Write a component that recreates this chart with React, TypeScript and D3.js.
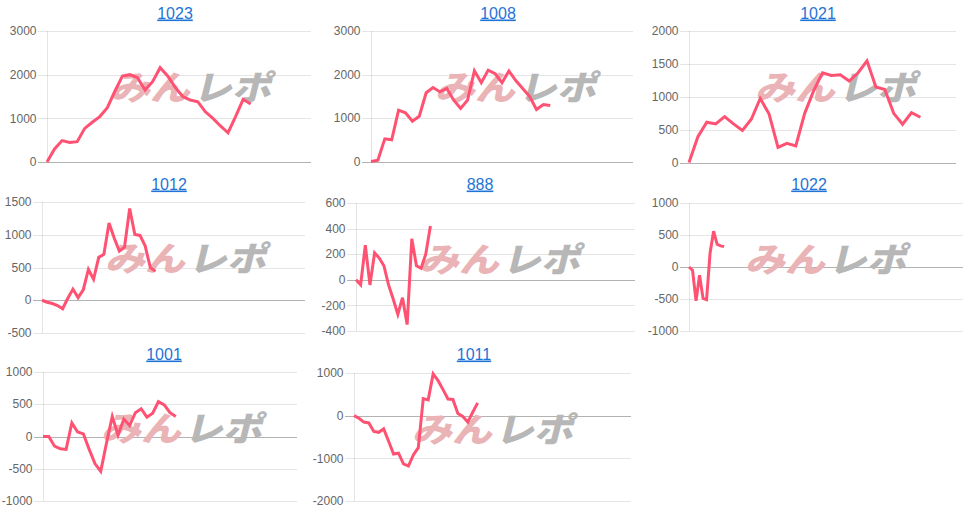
import React from "react";
import * as d3 from "d3";

const titles = ["1023", "1008", "1021", "1012", "888", "1022", "1001", "1011"];

const s1023 = [0, 300, 490, 445, 465, 770, 910, 1040, 1245, 1620, 1970, 2000, 1930, 1650, 1840, 2160, 1970, 1710, 1500, 1420, 1380, 1150, 1000, 825, 670, 1040, 1435, 1330];
const s1008 = [0, 30, 520, 500, 1180, 1120, 925, 1040, 1580, 1700, 1600, 1680, 1410, 1220, 1410, 2085, 1810, 2100, 2020, 1810, 2080, 1860, 1680, 1500, 1195, 1310, 1285];
const s1021 = [0, 390, 610, 585, 695, 585, 485, 655, 970, 735, 230, 290, 250, 745, 1085, 1360, 1320, 1330, 1235, 1360, 1540, 1145, 1105, 745, 580, 755, 685];
const s1012 = [0, -30, -50, -80, -130, 30, 170, 40, 160, 470, 320, 655, 700, 1180, 950, 750, 810, 1400, 1005, 990, 830, 500, 440];
const s888 = [0, -40, 270, -40, 210, 170, 110, -40, -150, -270, -140, -350, 320, 110, 90, 200, 420];
const s1022 = [0, -50, -530, -130, -490, -510, 220, 560, 355, 330, 318];
const s1001 = [0, 0, -150, -190, -200, 210, 70, 40, -200, -420, -540, -100, 310, 20, 270, 170, 370, 430, 300, 360, 540, 490, 370, 310];
const s1011 = [0, -60, -150, -170, -370, -390, -310, -600, -900, -880, -1130, -1180, -920, -750, 400, 370, 980, 820, 610, 390, 380, 50, -20, -150, 80, 300];

const seriesList = [s1023, s1008, s1021, s1012, s888, s1022, s1001, s1011];

// number of category labels on each chart's x axis
const slotCounts = [36, 39, 31, 52, 61, 79, 45, 57];

const yTicks1023 = [0, 1000, 2000, 3000];
const yTicks1008 = [0, 1000, 2000, 3000];
const yTicks1021 = [0, 500, 1000, 1500, 2000];
const yTicks1012 = [-500, 0, 500, 1000, 1500];
const yTicks888 = [-400, -200, 0, 200, 400, 600];
const yTicks1022 = [-1000, -500, 0, 500, 1000];
const yTicks1001 = [-1000, -500, 0, 500, 1000];
const yTicks1011 = [-2000, -1000, 0, 1000];
const tickList = [yTicks1023, yTicks1008, yTicks1021, yTicks1012, yTicks888, yTicks1022, yTicks1001, yTicks1011];

const layout = [
  { left: 47, right: 311, top: 31, bottom: 162, titleX: 175, titleY: 18.5, wmX: 190 },
  { left: 371, right: 633, top: 31, bottom: 161.5, titleX: 498, titleY: 18.5, wmX: 515 },
  { left: 689, right: 956, top: 30.5, bottom: 162.5, titleX: 818, titleY: 18.5, wmX: 835 },
  { left: 42, right: 305, top: 202, bottom: 333, titleX: 169, titleY: 189.5, wmX: 185 },
  { left: 356, right: 635, top: 203, bottom: 331, titleX: 480, titleY: 189.5, wmX: 499 },
  { left: 689, right: 963, top: 203, bottom: 331, titleX: 809, titleY: 189.5, wmX: 825 },
  { left: 43, right: 297, top: 372, bottom: 501, titleX: 164, titleY: 359.5, wmX: 181 },
  { left: 354, right: 631, top: 373, bottom: 501, titleX: 474, titleY: 359.5, wmX: 492 },
];

const LINE_COLOR = "#ff5273";
const FONT = "'Liberation Sans', Arial, Helvetica, sans-serif";

function Panel({ idx }: { idx: number }) {
  const L = layout[idx];
  const data = seriesList[idx];
  const ticks = tickList[idx];
  const x = d3.scaleLinear().domain([0, slotCounts[idx] - 1]).range([L.left, L.right]);
  const y = d3
    .scaleLinear()
    .domain([d3.min(ticks) as number, d3.max(ticks) as number])
    .range([L.bottom, L.top]);
  const line = d3
    .line<number>()
    .x((_, i) => x(i))
    .y((d) => y(d))
    .curve(d3.curveLinear);
  const wmTop = L.top + 42;
  return (
    <g>
      <text
        x={L.titleX}
        y={L.titleY}
        textAnchor="middle"
        fontFamily={FONT}
        fontSize={16}
        fill="#1f74d6"
        style={{ textDecoration: "underline" }}
      >
        {titles[idx]}
      </text>
      {ticks.map((t) => (
        <g key={t}>
          <line
            x1={L.left - 9}
            x2={L.right}
            y1={Math.round(y(t)) + 0.5}
            y2={Math.round(y(t)) + 0.5}
            stroke={t === 0 ? "rgba(0,0,0,0.3)" : "rgba(0,0,0,0.1)"}
            strokeWidth={1}
          />
          <text
            x={L.left - 10.5}
            y={y(t)}
            dy="0.35em"
            textAnchor="end"
            fontFamily={FONT}
            fontSize={12}
            fill="#666"
          >
            {t}
          </text>
        </g>
      ))}
      <line
        x1={Math.round(L.left) + 0.5}
        x2={Math.round(L.left) + 0.5}
        y1={L.top}
        y2={L.bottom}
        stroke="rgba(0,0,0,0.1)"
      />
      <g transform={`translate(${L.wmX},${wmTop + 27}) skewX(-14)`}>
        <text
          x={-80}
          y={0}
          fontFamily="'Noto Sans CJK JP', sans-serif"
          fontWeight={900}
          fontSize={34}
          fill="#eab3b6"
          textLength={80}
          lengthAdjust="spacingAndGlyphs"
        >
          みん
        </text>
        <text
          x={3}
          y={0}
          fontFamily="'Noto Sans CJK JP', sans-serif"
          fontWeight={900}
          fontSize={34}
          fill="#b7b7b7"
          textLength={78}
          lengthAdjust="spacingAndGlyphs"
        >
          レポ
        </text>
      </g>
      <path
        d={line(data) || ""}
        fill="none"
        stroke={LINE_COLOR}
        strokeWidth={3}
        strokeLinejoin="miter"
        strokeMiterlimit={4}
      />
    </g>
  );
}

export default function App() {
  return (
    <svg
      width={970}
      height={513}
      style={{ position: "absolute", left: 0, top: 0, background: "#fff" }}
    >
      {titles.map((_, i) => (
        <Panel key={i} idx={i} />
      ))}
    </svg>
  );
}
